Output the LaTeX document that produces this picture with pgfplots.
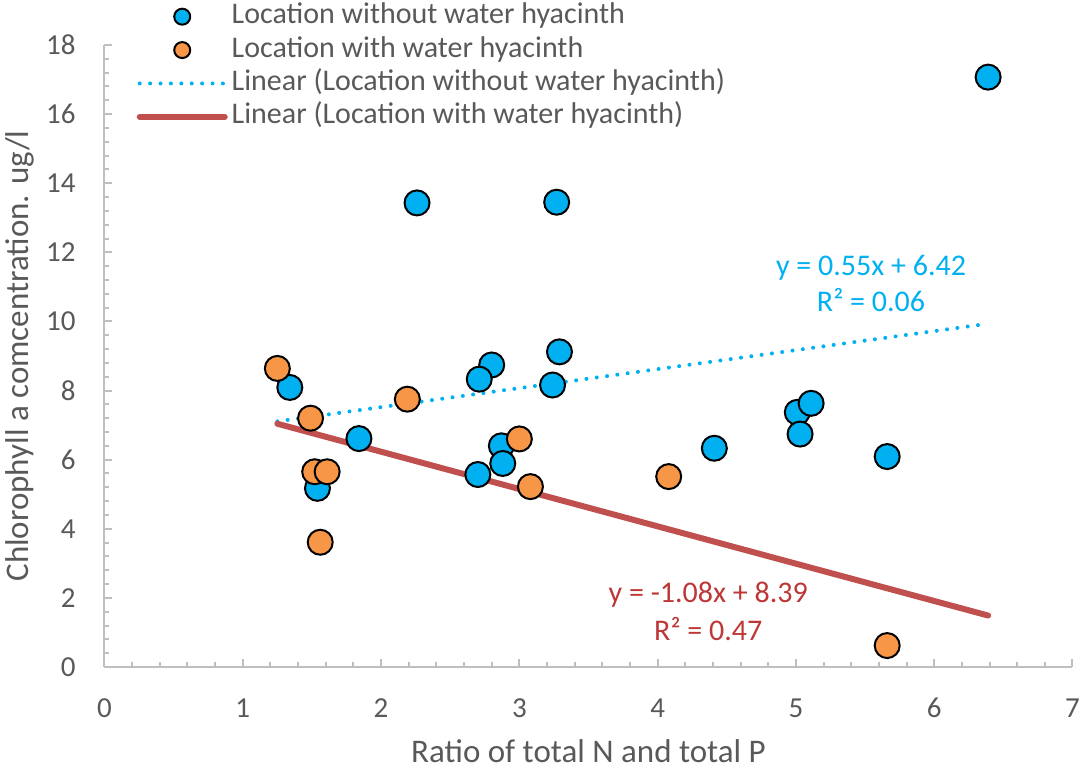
\documentclass[border=0pt]{standalone}
\usepackage{fontspec}
\setmainfont{Carlito}
\usepackage{pgfplots}
\pgfplotsset{compat=1.18}
\definecolor{ptblue}{HTML}{00B0F0}
\definecolor{ptorange}{HTML}{F79646}
\definecolor{trred}{HTML}{C0504D}
\definecolor{trtext}{RGB}{190,55,55}
\definecolor{axgray}{HTML}{BFBFBF}
\definecolor{labgray}{HTML}{595959}
\pgfplotsset{
  markleg/.style={legend image code/.code={\draw[##1, mark size=4pt] plot coordinates {(21.25pt,3.5pt)};}},
  lineleg/.style={legend image code/.code={\draw[##1] (0pt,3.5pt) -- (42.5pt,3.5pt);}},
}
\begin{document}
\begin{tikzpicture}
\useasboundingbox (-52.25pt,-51.5pt) rectangle (489.75pt,333.5pt);
\begin{axis}[
  at={(0pt,0pt)}, anchor=south west,
  scale only axis, width=484pt, height=311pt,
  xmin=0, xmax=7, ymin=0, ymax=18,
  axis lines=left,
  axis line style={-, draw=axgray, line width=1pt},
  xtick={0,1,...,7}, ytick={0,2,...,18},
  minor x tick num=4, minor y tick num=4,
  tick align=inside,
  major tick length=4pt, minor tick length=2.5pt,
  tick style={draw=axgray, line width=1pt},
  /pgf/number format/assume math mode=true,
  tick label style={font=\fontsize{14.5}{14.5}\selectfont, text=labgray, inner sep=0pt},
  xticklabel style={anchor=center, yshift=-20.5pt},
  yticklabel style={anchor=east, xshift=-14.25pt},
  xlabel={Ratio of total N and total P},
  ylabel={Chlorophyll a comcentration. ug/l},
  every axis x label/.style={at={(axis description cs:0.5,-0.15434)}, anchor=base, font=\fontsize{16.5}{16.5}\selectfont, text=labgray},
  every axis y label/.style={at={(axis description cs:-0.07903,0.5)}, rotate=90, anchor=base, font=\fontsize{16.5}{16.5}\selectfont, text=labgray},
  legend style={
    at={(axis description cs:0.0333,1.0735)}, anchor=north west,
    draw=none, fill=none, inner sep=0pt, outer sep=0pt,
    font=\fontsize{15}{15}\selectfont, text=labgray,
    row sep=0pt, column sep=1pt,
    nodes={text height=11.2pt, text depth=3.5pt, inner sep=1pt, anchor=base west},
  },
  legend cell align=left,
  clip=false,
]
\addplot[only marks, mark=*, mark size=6.25pt, mark options={fill=ptblue, draw=black, line width=1pt}, markleg]
coordinates {
(6.39,17.07) (2.26,13.43) (3.27,13.45) (3.29,9.12) (2.80,8.74) (2.71,8.33)
(3.24,8.16) (1.34,8.09) (1.84,6.61) (1.54,5.17) (2.70,5.57) (2.87,6.40)
(2.88,5.89) (4.41,6.33) (5.01,7.37) (5.11,7.63) (5.03,6.74) (5.66,6.09)
};
\addlegendentry{Location without water hyacinth}
\addplot[only marks, mark=*, mark size=6.25pt, mark options={fill=ptorange, draw=black, line width=1pt}, markleg]
coordinates {
(1.25,8.64) (1.49,7.20) (1.52,5.65) (1.61,5.65) (1.56,3.61)
(2.19,7.75) (3.00,6.60) (3.08,5.22) (4.08,5.51) (5.66,0.62)
};
\addlegendentry{Location with water hyacinth}
\addplot[ptblue, line width=2pt, line cap=round, dash pattern=on 0pt off 5.2pt, lineleg]
coordinates {(1.25,7.1075) (6.39,9.9345)};
\addlegendentry{Linear (Location without water hyacinth)}
\addplot[trred, line width=3pt, line cap=round, lineleg]
coordinates {(1.25,7.04) (6.39,1.4888)};
\addlegendentry{Linear (Location with water hyacinth)}
\node[font=\fontsize{15}{15}\selectfont, text=ptblue, anchor=base] at (axis cs:5.543,11.34) {y = 0.55x + 6.42};
\node[font=\fontsize{15}{15}\selectfont, text=ptblue, anchor=base] at (axis cs:5.543,10.28) {R² = 0.06};
\node[font=\fontsize{15}{15}\selectfont, text=trtext, anchor=base] at (axis cs:4.366,1.861) {y = -1.08x + 8.39};
\node[font=\fontsize{15}{15}\selectfont, text=trtext, anchor=base] at (axis cs:4.366,0.781) {R² = 0.47};
\end{axis}
\end{tikzpicture}
\end{document}
